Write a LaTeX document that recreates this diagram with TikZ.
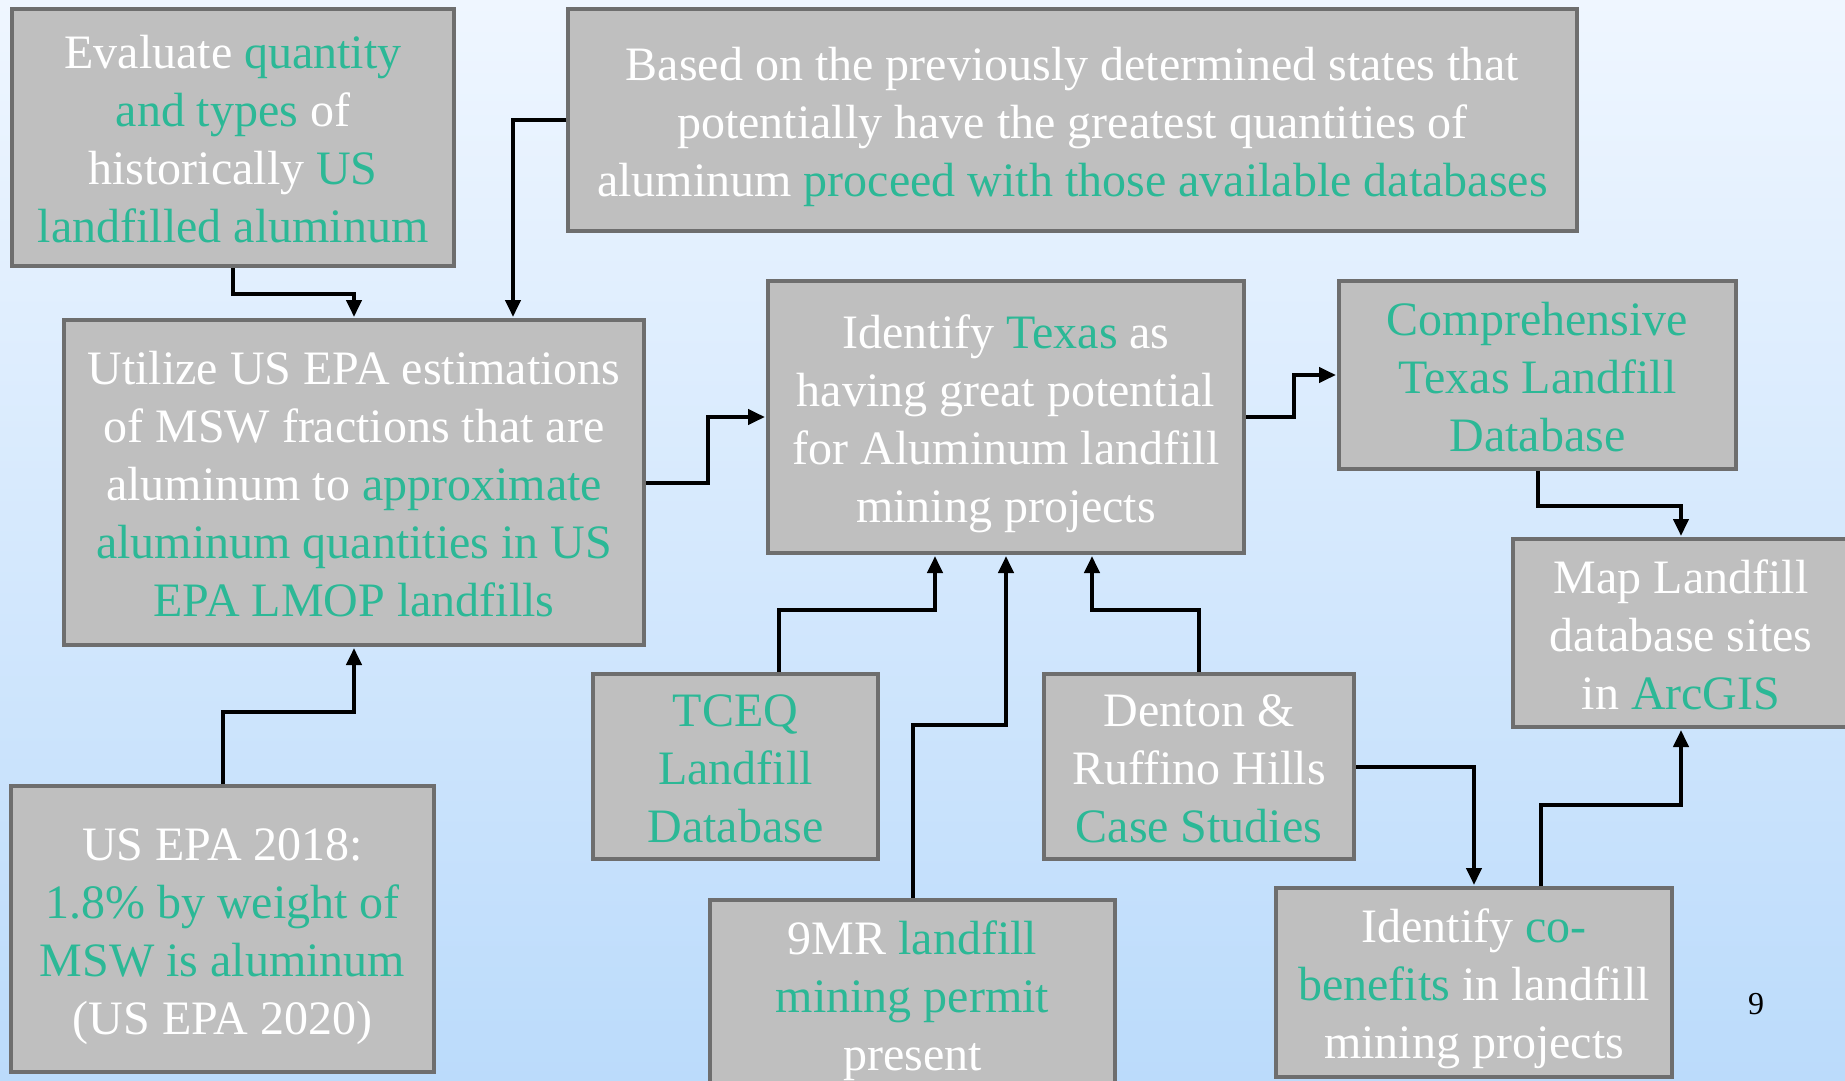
\documentclass[tikz,border=0pt]{standalone}
\usepackage{fontspec}
\setmainfont{Liberation Serif}
\usetikzlibrary{arrows.meta}

\definecolor{bgtop}{RGB}{239,246,255}
\definecolor{bgbottom}{RGB}{187,219,251}
\definecolor{boxgray}{RGB}{191,191,191}
\definecolor{boxedge}{RGB}{110,110,110}
\definecolor{mintgreen}{RGB}{44,184,150}
\newcommand{\grn}[1]{\textcolor{mintgreen}{#1}}
\newcommand{\linestrut}{\rule[-10.5pt]{0pt}{57.5pt}}

\begin{document}
\begin{tikzpicture}[x=1pt, y=-1pt,
    stepbox/.style={draw=boxedge, line width=4pt, fill=boxgray, text=white,
        align=center, inner sep=0pt, font=\fontsize{48}{58}\selectfont,
        execute at end node=\linestrut},
    flow/.style={line width=4pt, -{Triangle[length=17pt,width=15pt]}, shorten >=1pt}]
    % Background
    \useasboundingbox (0,0) rectangle (1845,1081);
    \shade[top color=bgtop, bottom color=bgbottom] (0,0) rectangle (1845,1081);

    % Draw the boxes
    \node[stepbox, minimum width=442, minimum height=257] (eval) at (233,137.5)
        {\linestrut Evaluate \grn{quantity}\\\grn{and types} of\\historically \grn{US}\\\grn{landfilled aluminum}};
    \node[stepbox, minimum width=1009, minimum height=222] (based) at (1072.5,120)
        {\linestrut Based on the previously determined states that\\potentially have the greatest quantities of\\aluminum \grn{proceed with those available databases}};
    \node[stepbox, minimum width=580, minimum height=325] (util) at (354,482.5)
        {\linestrut Utilize US EPA estimations\\of MSW fractions that are\\aluminum to \grn{approximate}\\\grn{aluminum quantities in US}\\\grn{EPA LMOP landfills}};
    \node[stepbox, minimum width=476, minimum height=272] (texas) at (1006,417)
        {\linestrut Identify \grn{Texas} as\\having great potential\\for Aluminum landfill\\mining projects};
    \node[stepbox, minimum width=397, minimum height=188] (comp) at (1537.5,375)
        {\linestrut\grn{Comprehensive}\\\grn{Texas Landfill}\\\grn{Database}};
    \node[stepbox, minimum width=336, minimum height=188] (map) at (1681,633)
        {\linestrut Map Landfill\\database sites\\in \grn{ArcGIS}};
    \node[stepbox, minimum width=285, minimum height=185] (tceq) at (735.5,766.5)
        {\linestrut\grn{TCEQ}\\\grn{Landfill}\\\grn{Database}};
    \node[stepbox, minimum width=310, minimum height=185] (denton) at (1199,766.5)
        {\linestrut Denton \&\\Ruffino Hills\\\grn{Case Studies}};
    \node[stepbox, minimum width=423, minimum height=286] (epa) at (222.5,929)
        {\linestrut US EPA 2018:\\\grn{1.8\% by weight of}\\\grn{MSW is aluminum}\\(US EPA 2020)};
    \node[stepbox, minimum width=405, minimum height=188] (permit) at (912.5,994)
        {\linestrut 9MR \grn{landfill}\\\grn{mining permit}\\present};
    \node[stepbox, minimum width=396, minimum height=189] (cobenefit) at (1474,982.5)
        {\linestrut Identify \grn{co-}\\\grn{benefits} in landfill\\mining projects};

    % Page number
    \node[font=\fontsize{32}{38}\selectfont] (pagenum) at (1756,1004) {9};

    % Draw the connectors
    \draw[flow] (eval.south) -- ++(0,26) -| (util.north);
    \draw[flow] (based.west) -| ([xshift=159]util.north);
    \draw[flow] (epa.north) -- ++(0,-72) -| (util.south);
    \draw[flow] (util.east) -- ++(62,0) |- (texas.west);
    \draw[flow] (texas.east) -- ++(48,0) |- (comp.west);
    \draw[flow] (comp.south) -- ++(0,35) -| (map.north);
    \draw[flow] ([xshift=43]tceq.north) -- ++(0,-62) -| ([xshift=-71]texas.south);
    \draw[flow] (permit.north) -- ++(0,-173) -| (texas.south);
    \draw[flow] (denton.north) -- ++(0,-62) -| ([xshift=86]texas.south);
    \draw[flow] (denton.east) -| (cobenefit.north);
    \draw[flow] ([xshift=67]cobenefit.north) -- ++(0,-81) -| (map.south);
\end{tikzpicture}
\end{document}
